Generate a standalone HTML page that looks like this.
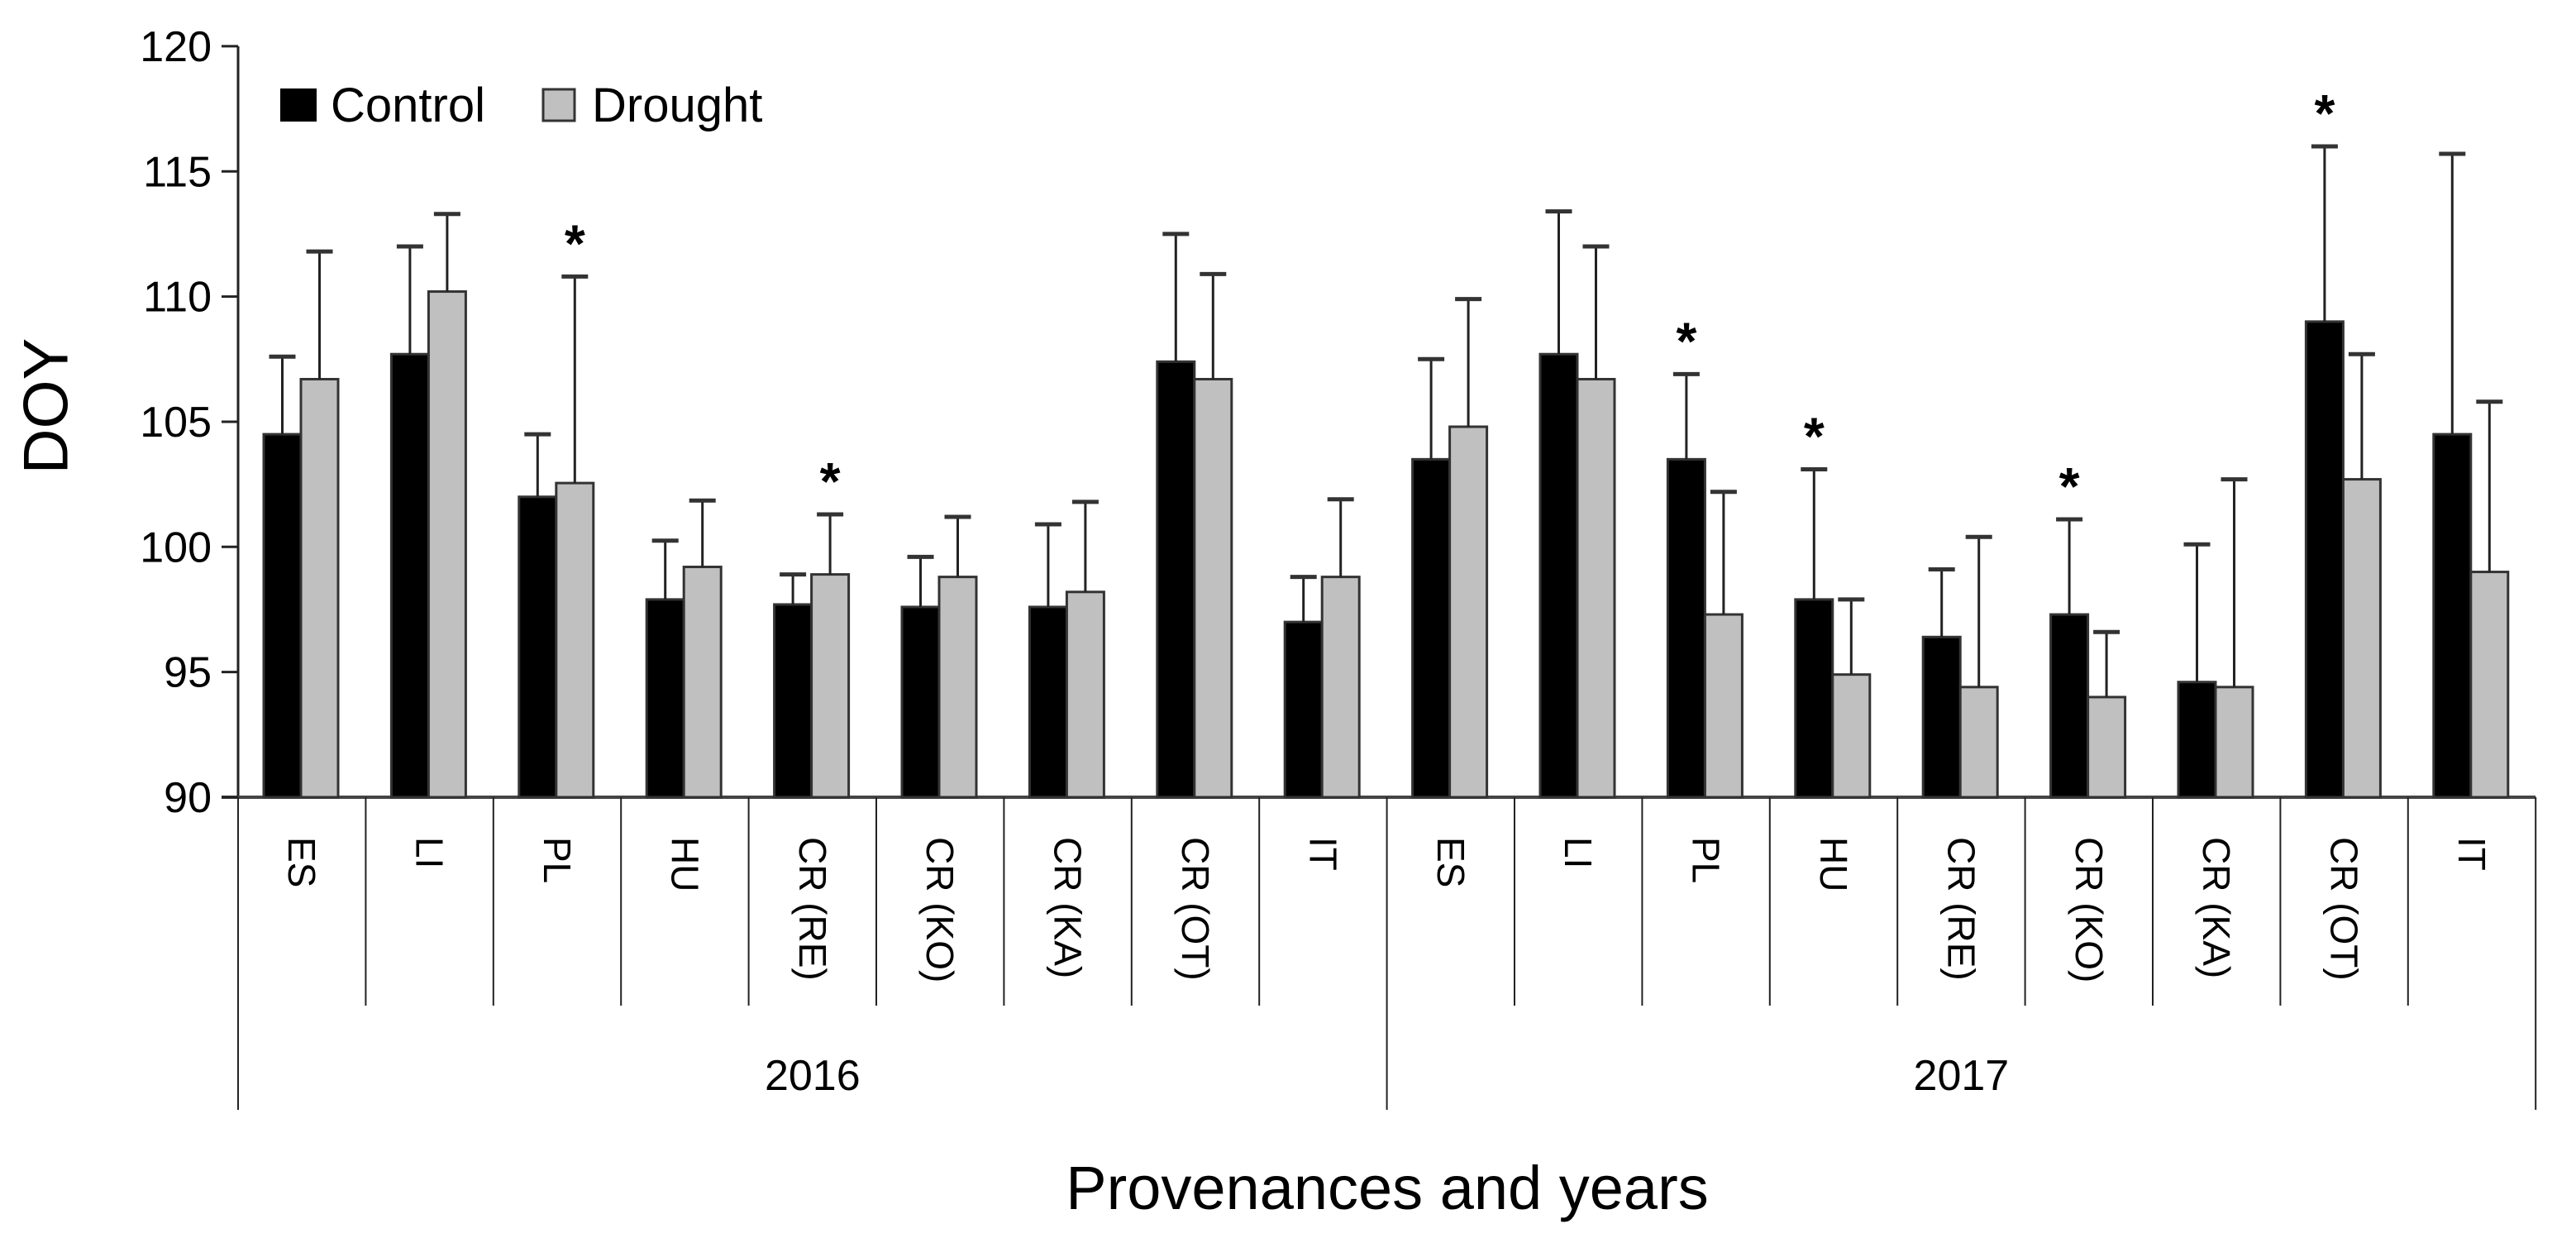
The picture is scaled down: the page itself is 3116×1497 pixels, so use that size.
<!DOCTYPE html>
<html><head><meta charset="utf-8"><style>
html,body{margin:0;padding:0;background:#fff;}
svg{display:block;font-family:"Liberation Sans","DejaVu Sans",sans-serif;}
</style></head><body>
<svg id="chart" width="3116" height="1497" viewBox="0 0 3116 1497">
<g id="axes"></g><g id="bars"></g><g id="labels"></g>
<text x="56" y="491" font-size="76" text-anchor="middle" transform="rotate(-90 56 491)" dominant-baseline="central">DOY</text>
<text x="1678" y="1462" font-size="74" text-anchor="middle">Provenances and years</text>
<g>
<rect x="339" y="107" width="44" height="40" fill="#000"/>
<text x="400" y="147" font-size="58">Control</text>
<rect x="657" y="108" width="38" height="38" fill="#c0c0c0" stroke="#333" stroke-width="3"/>
<text x="716" y="147" font-size="58">Drought</text>
</g>
</svg>
<script>
const categories = ["ES","LI","PL","HU","CR (RE)","CR (KO)","CR (KA)","CR (OT)","IT","ES","LI","PL","HU","CR (RE)","CR (KO)","CR (KA)","CR (OT)","IT"];
const years = ["2016","2017"];
const controlVals = [104.5,107.7,102.0,97.9,97.7,97.6,97.6,107.4,97.0,103.5,107.7,103.5,97.9,96.4,97.3,94.6,109.0,104.5];
const controlErrTop = [107.6,112.0,104.5,100.25,98.9,99.6,100.9,112.5,98.8,107.5,113.4,106.9,103.1,99.1,101.1,100.1,116.0,115.7];
const droughtVals = [106.7,110.2,102.55,99.2,98.9,98.8,98.2,106.7,98.8,104.8,106.7,97.3,94.9,94.4,94.0,94.4,102.7,99.0];
const droughtErrTop = [111.8,113.3,110.8,101.85,101.3,101.2,101.8,110.9,101.9,109.9,112.0,102.2,97.9,100.4,96.6,102.7,107.7,105.8];
// significance: 0 none, 1 on control, 2 on drought
const signif = [0,0,2,0,2,0,0,0,0,0,0,1,1,0,1,0,1,0];
const yTicks = [90,95,100,105,110,115,120];

const NS="http://www.w3.org/2000/svg";
const X0=288, CW=154.4, Y0=964, PX=30.27, YMIN=90;
const y = v => Y0-(v-YMIN)*PX;
const cx = i => X0+i*CW;
function mk(tag,attrs,parent){const e=document.createElementNS(NS,tag);for(const k in attrs)e.setAttribute(k,attrs[k]);parent.appendChild(e);return e;}
const axes=document.getElementById('axes'),bars=document.getElementById('bars'),labels=document.getElementById('labels');
const n=categories.length, XEND=X0+n*CW;

let el=mk('line',{x1:X0,y1:y(yTicks[yTicks.length-1]),x2:X0,y2:Y0,stroke:'#222','stroke-width':3},axes);


el=mk('line',{x1:268,y1:Y0,x2:XEND,y2:Y0,stroke:'#444','stroke-width':4},axes);


yTicks.forEach(t=>{
  mk('line',{x1:268,y1:y(t),x2:X0,y2:y(t),stroke:'#222','stroke-width':3},axes);
  el=mk('text',{x:256,y:y(t)+18,'font-size':52,'text-anchor':'end'},labels);
  el.textContent=t;
  
  
});
for(let i=0;i<=n;i++){
  const big=(i%9===0);
  mk('line',{x1:cx(i),y1:Y0,x2:cx(i),y2:big?1342:1216,stroke:'#222','stroke-width':2},axes);
}
categories.forEach((c,i)=>{
  const mx=cx(i)+CW/2;
  el=mk('text',{x:mx,y:1012,'font-size':46,transform:`rotate(90 ${mx} 1012)`,'dominant-baseline':'central'},labels);
  el.textContent=c;
  
  
});
years.forEach((yr,k)=>{
  el=mk('text',{x:X0+(k*9+4.5)*CW,y:1318,'font-size':52,'text-anchor':'middle'},labels);
  el.textContent=yr;
  
  
});
const BW=45;
function bar(i,v,e,fill,off,name){
  const x=cx(i)+off;
  const b=mk('rect',{x:x,y:y(v),width:BW,height:Y0-y(v),fill:fill,stroke:'#333','stroke-width':3},bars);
  
  
  const m=x+BW/2;
  mk('line',{x1:m,y1:y(v),x2:m,y2:y(e),stroke:'#222','stroke-width':3},bars);
  const c=mk('line',{x1:m-16,y1:y(e),x2:m+16,y2:y(e),stroke:'#333','stroke-width':5},bars);
  
  
  return m;
}
categories.forEach((c,i)=>{
  const m1=bar(i,controlVals[i],controlErrTop[i],'#000',31,'bar-control');
  const m2=bar(i,droughtVals[i],droughtErrTop[i],'#c0c0c0',76,'bar-drought');
  if(signif[i]){
    const mx=signif[i]===1?m1:m2, e=signif[i]===1?controlErrTop[i]:droughtErrTop[i];
    const s=mk('text',{x:mx,y:y(e)-18,'font-size':64,'font-weight':'bold','text-anchor':'middle'},labels);
    s.textContent='*';
    
    
  }
});
</script>
</body></html>
